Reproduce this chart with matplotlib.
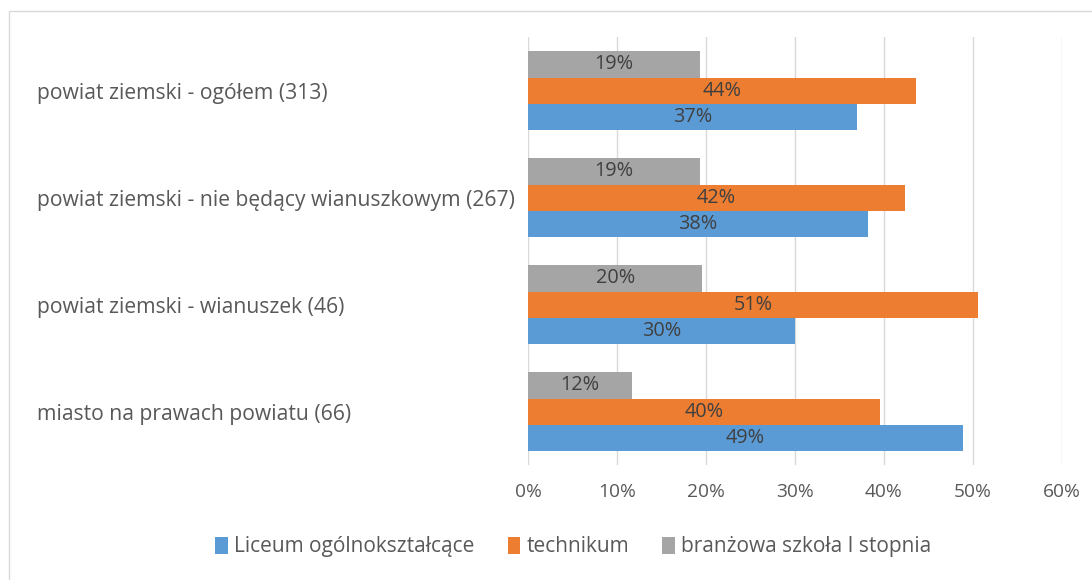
import numpy as np
import matplotlib.pyplot as plt
from matplotlib.patches import Rectangle

plt.rcParams['font.family'] = ['Open Sans', 'DejaVu Sans']

categories = ['miasto na prawach powiatu (66)',
              'powiat ziemski - wianuszek (46)',
              'powiat ziemski - nie będący wianuszkowym (267)',
              'powiat ziemski - ogółem (313)']
series = ['Liceum ogólnokształcące', 'technikum', 'branżowa szkoła I stopnia']
liceum = [48.9, 30.0, 38.2, 37.0]
technikum = [39.5, 50.6, 42.4, 43.6]
branzowa = [11.7, 19.6, 19.3, 19.3]
colors = ['#5b9bd5', '#ed7d31', '#a5a5a5']

fig = plt.figure(figsize=(10.92, 5.80), dpi=100)
ax = fig.add_axes([0.4835, 0.198, 0.4890, 0.738])

y = np.arange(len(categories))
h = 0.245
for i, (vals, c) in enumerate(zip([liceum, technikum, branzowa], colors)):
    pos = y + (i - 1) * h
    ax.barh(pos, vals, height=h, color=c, label=series[i], zorder=3)
    for p, v in zip(pos, vals):
        ax.text(v / 2, p, f'{round(v):.0f}%', ha='center', va='center',
                fontsize=14.3, color='#404040', zorder=4)

ax.set_xlim(0, 60)
ax.set_ylim(-0.5, 3.5)
ax.set_xticks(np.arange(0, 61, 10))
ax.set_xticklabels([f'{t}%' for t in range(0, 61, 10)])
ax.grid(axis='x', color='#d9d9d9', linewidth=1, zorder=0)
for s in ax.spines.values():
    s.set_visible(False)
ax.tick_params(length=0, labelsize=13.8, colors='#595959')
ax.tick_params(axis='x', pad=13)
ax.set_yticks(y)
ax.set_yticklabels(categories, ha='left', fontsize=15.2)
ax.tick_params(axis='y', pad=353.5)

fig.legend(loc='center', bbox_to_anchor=(0.525, 0.057), ncol=3, frameon=False,
           fontsize=15, labelcolor='#595959', handlelength=0.6, handleheight=0.85,
           handletextpad=0.3, columnspacing=1.6)

fig.patches.append(Rectangle((9 / 1092, -0.1), 1.2, 1 - 11 / 580 + 0.1,
                             transform=fig.transFigure, fill=False,
                             edgecolor='#d9d9d9', linewidth=1))

plt.savefig('out.png')
